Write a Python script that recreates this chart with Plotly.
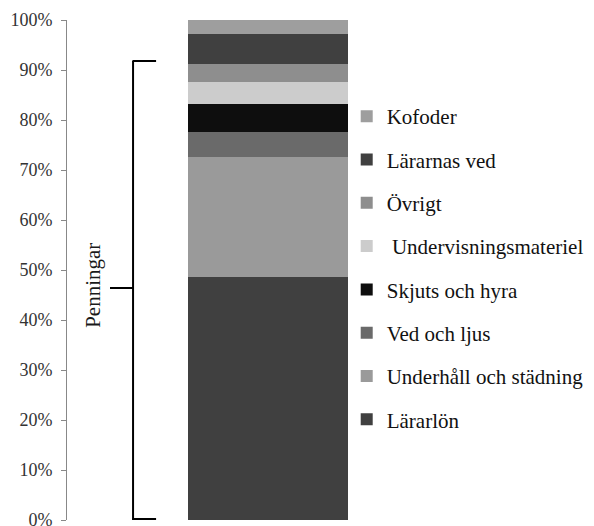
import plotly.graph_objects as go

categories = ["Lärarlön", "Underhåll och städning", "Ved och ljus", "Skjuts och hyra",
              "\u00a0Undervisningsmateriel", "Övrigt", "Lärarnas ved", "Kofoder"]
shares = [0.487, 0.240, 0.049, 0.056, 0.045, 0.035, 0.061, 0.027]
colors = ["#404040", "#9a9a9a", "#6a6a6a", "#0e0e0e", "#cccccc", "#8e8e8e", "#404040", "#9e9e9e"]
bracket_top, bracket_bottom, bracket_mid = 0.918, 0.0, 0.464
tick_vals = [i / 10 for i in range(11)]
tick_text = [f"{i*10}%" for i in range(11)]

SERIF = "Liberation Serif"

fig = go.Figure()
n = len(categories)
for i, (name, v, c) in enumerate(zip(categories, shares, colors)):
    fig.add_trace(go.Bar(x=[0], y=[v], name=name, marker=dict(color=c, line=dict(width=0)),
                         width=0.528, legendgroup=f"g{i}", legendrank=n - i))

# bracket "Penningar"
xv, xa, xm = 0.218, 0.294, 0.142
line = dict(color="black", width=2)
fig.add_shape(type="line", xref="paper", yref="y", x0=xv, x1=xv, y0=bracket_bottom, y1=bracket_top, line=line)
fig.add_shape(type="line", xref="paper", yref="y", x0=xv - 0.002, x1=xa, y0=bracket_top, y1=bracket_top, line=line)
fig.add_shape(type="line", xref="paper", yref="y", x0=xv - 0.002, x1=xa, y0=bracket_bottom + 0.002, y1=bracket_bottom + 0.002, line=line)
fig.add_shape(type="line", xref="paper", yref="y", x0=xm, x1=xv, y0=bracket_mid, y1=bracket_mid, line=line)
fig.add_annotation(text="Penningar", xref="paper", yref="y", x=0.039, y=0.47, textangle=-90,
                   showarrow=False, font=dict(family=SERIF, size=21, color="#1a1a1a"))

fig.update_layout(
    width=586, height=518,
    margin=dict(l=59, r=224, t=12, b=6, autoexpand=False),
    barmode="stack",
    plot_bgcolor="white", paper_bgcolor="white",
    font=dict(family=SERIF, size=17, color="#333333"),
    showlegend=True,
    legend=dict(traceorder="grouped", tracegroupgap=13, xref="container", yref="container",
                x=0.578, xanchor="left", y=0.830, yanchor="top", itemwidth=30, maxheight=480,
                font=dict(family=SERIF, size=21, color="#111111"),
                bgcolor="rgba(0,0,0,0)"),
    xaxis=dict(range=[-0.663, 0.337], showticklabels=False, showgrid=False, zeroline=False,
               showline=False, fixedrange=True, automargin=False),
    yaxis=dict(range=[0, 1], tickvals=tick_vals, ticktext=tick_text, showgrid=False, zeroline=False,
               showline=True, linecolor="#888888", linewidth=1, ticks="outside", ticklen=5,
               tickcolor="#888888", ticklabelstandoff=5, ticklabeloverflow="allow", automargin=False,
               tickfont=dict(family=SERIF, size=18, color="#333333")),
)

fig.write_html("out.html")
